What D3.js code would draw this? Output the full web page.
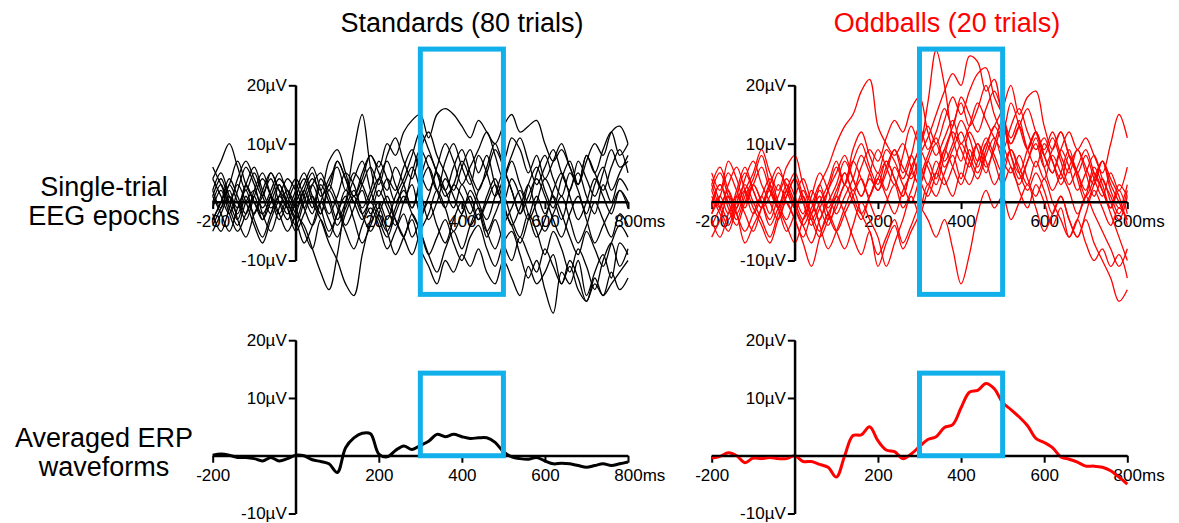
<!DOCTYPE html>
<html><head><meta charset="utf-8">
<script src="https://cdn.jsdelivr.net/npm/d3@7"></script>
<style>
body{margin:0;background:#fff}
svg{display:block}
text{font-family:"Liberation Sans",Arial,Helvetica,sans-serif}
</style>
</head><body>
<svg id="chart" width="1179" height="523"></svg>
<script>
// ---------- data ----------
const times = [-200,-180,-160,-140,-120,-100,-80,-60,-40,-20,0,20,40,60,80,100,120,140,160,180,200,220,240,260,280,300,320,340,360,380,400,420,440,460,480,500,520,540,560,580,600,620,640,660,680,700,720,740,760,780,800];

const standardTrials = [
 [2,5,1,-2,3,6,2,-1,1,4, 2,-1,3,5,2,7,4,1,5,8, 6,10,8,12,14,15,11,15,16,15, 13,11,14,12,10,13,15,12,13,14, 10,7,9,6,3,7,10,8,12,13, 10],
 [-3,0,4,1,-2,2,5,1,-3,0, 3,-1,-4,0,4,6,2,9,15,6, 1,4,2,6,9,5,2,6,10,7, 3,6,9,12,8,4,7,3,0,5, 8,4,1,5,2,-2,3,6,2,5, 8],
 [1,-2,-5,-1,2,-3,-6,-2,1,-1, -4,0,3,-1,-5,-2,2,0,-3,1, 4,0,-3,-6,-2,-5,-9,-6,-3,-7, -10,-6,-4,-8,-11,-7,-5,-9,-13,-10, -15,-19,-12,-14,-10,-16,-12,-9,-13,-7, -9],
 [0,3,-1,-4,0,2,-2,-5,-1,2, -1,-5,-8,-3,-6,-2,1,-3,-7,-4, -1,-5,-9,-6,-3,-8,-11,-14,-10,-12, -9,-11,-8,-12,-14,-10,-13,-16,-11,-14, -12,-9,-14,-11,-15,-17,-13,-16,-14,-12, -10],
 [4,1,-2,2,6,3,-1,2,5,1, -2,-4,-8,-12,-15,-9,0,5,3,0, 4,7,3,0,5,9,6,2,7,10, 6,3,8,5,1,4,8,11,7,3, 6,9,5,2,7,4,1,5,9,6, 7],
 [-2,-5,-1,3,0,-4,-7,-3,0,-2, 1,4,0,-3,-7,-10,-14,-16,-9,-3, 2,-1,-4,0,3,-2,1,5,2,-1, 3,0,-3,1,4,0,-4,-1,3,-2, -5,-2,1,-3,-7,-4,0,-3,-6,-2, -4],
 [4,7,10,6,2,5,1,-2,3,0, -3,1,4,2,7,9,5,1,4,8, 5,2,6,3,-1,4,8,5,1,3, 7,4,0,-3,1,5,2,-2,3,6, 2,-1,4,7,3,8,5,2,6,9, 5],
 [-4,-1,2,-3,-6,-2,1,4,0,-3, 0,3,6,2,-2,1,5,3,-1,2, 7,4,0,3,6,2,-3,0,4,1, -2,2,-1,-5,-2,1,-3,-6,-2,-5, -9,-5,-8,-12,-8,-11,-15,-10,-7,-11, -8],
 [6,3,0,4,7,4,1,5,2,-1, 2,5,1,-2,3,0,-4,-1,3,6, 3,8,11,7,4,9,12,8,5,2, 6,9,5,8,3,0,4,1,-3,0, 4,1,-3,2,5,1,-2,3,0,4, 2],
 [-1,2,-2,-5,-2,1,-3,0,3,-1, -5,-2,1,-2,2,-1,-5,-8,-4,-1, -4,-8,-5,-2,-6,-3,0,-4,-7,-3, 0,-4,-2,-6,-3,-7,-10,-6,-9,-12, -8,-11,-14,-10,-13,-17,-14,-16,-12,-15, -13],
 [2,-1,3,0,-3,1,4,1,-2,1, 4,1,-2,3,0,-4,-1,2,-2,-5, -2,1,-3,-6,-9,-5,-2,2,-1,-5, -2,1,-3,0,3,-1,-4,-7,-3,1, -2,2,5,1,-3,0,4,1,-2,2, -1],
 [-3,0,3,7,3,0,-3,1,-2,-5, -2,2,5,1,3,7,4,0,2,-2, 0,-3,1,4,8,12,9,5,2,6, 9,5,2,6,10,7,11,9,5,8, 4,7,10,6,3,8,5,9,12,8, 10],
 [1,4,0,-3,1,-2,2,5,2,0, -3,-7,-4,0,-3,-6,-2,1,-2,0, -3,-6,-2,1,-2,-5,-9,-12,-8,-5, -8,-4,-1,-5,-8,-4,-1,2,-2,-6, -3,1,-2,-6,-9,-5,-8,-11,-7,-4, -6],
 [-5,-2,1,-1,3,0,-2,1,4,2, -1,2,-1,4,1,-3,0,4,7,2, -2,-5,-1,2,-1,3,6,2,-1,3, 1,-2,2,5,9,6,2,-2,1,4, 1,-3,-6,-2,1,-3,-7,-4,-1,2, 0]
];

const oddballTrials = [
 [2,-1,3,6,2,-2,1,4,0,-3, 1,4,0,-3,2,5,8,4,1,5, 9,6,3,8,13,10,17,26,20,11, 7,12,9,5,10,14,8,4,7,11, 6,2,5,9,4,0,3,7,2,-1, 3],
 [-2,1,5,2,-1,3,0,-4,-1,2, -1,-4,-7,-3,0,3,7,4,1,4, 2,5,9,6,4,8,11,15,19,22, 20,25,24,19,21,14,10,13,9,6, 10,7,3,6,9,5,1,4,0,-3, 1],
 [3,6,2,-1,4,7,3,0,-3,1, 4,0,-4,-1,2,6,3,7,10,6, 3,7,4,1,6,9,13,10,14,18, 15,19,22,23,18,15,11,14,9,12, 8,5,9,6,2,5,8,4,1,-2, 2],
 [-1,3,0,-3,1,4,8,3,-1,2, 5,1,-2,3,6,10,13,15,19,21, 13,10,8,10,6,3,7,10,6,9, 12,8,5,9,13,10,6,3,7,10, 6,9,12,8,5,2,6,3,-1,2, -2],
 [4,0,-3,1,5,2,-1,3,6,2, -1,2,-2,-5,-2,1,5,2,6,9, 7,11,14,12,16,18,12,8,11,14, 10,13,17,14,11,9,13,16,12,9, 11,7,4,8,5,1,4,7,3,0, -3],
 [-3,-6,-2,1,-2,-5,-1,2,-1,-4, -7,-3,0,-4,-8,-5,-1,2,-2,-5, -9,-6,-3,-7,-4,-1,-3,-6,-3,-8, -14,-9,-2,2,-1,1,-3,0,3,-1, -5,-2,1,-3,-6,-2,2,-1,-4,-1, -3],
 [1,-2,-5,-1,2,-1,-4,-7,-3,0, -3,-6,-2,1,-3,-1,3,0,-3,1, 4,1,-2,2,5,9,6,3,8,12, 9,6,10,7,3,6,9,5,2,5, 2,-2,1,-3,-6,-3,-7,-10,-13,-17, -15],
 [-4,-1,2,-2,-5,-2,1,-2,3,0, -3,-7,-11,-6,-2,-5,-8,-4,0,-3, -6,-11,-7,-3,1,-2,2,5,3,6, 10,7,4,8,11,7,5,8,4,1, 4,0,-3,-6,-3,-7,-10,-8,-11,-9, -13],
 [2,5,1,-2,2,5,9,5,2,6, 8,3,0,3,-1,2,5,1,-2,1, 4,7,4,1,5,3,7,4,9,6, 3,7,10,6,9,13,8,5,9,12, 8,5,9,12,9,11,8,5,10,15, 11],
 [0,3,-1,-4,0,3,0,-3,1,4, 1,-2,2,-1,-4,0,3,7,4,1, 5,2,6,3,0,4,8,11,7,10, 14,11,7,10,13,16,20,15,18,19, 13,9,12,8,5,8,4,1,5,2, 6],
 [-6,-3,1,-2,-7,-4,-1,3,-1,-5, -2,1,-3,-6,-3,1,-2,-6,-9,-5, -11,-7,-4,-8,-5,-2,3,1,5,8, 4,9,6,10,7,3,6,2,-1,3, 0,-4,-1,-6,-3,1,-2,-5,-8,-11, -8],
 [5,2,7,4,0,3,6,2,-1,3, 0,-3,1,5,2,-2,1,4,8,5, 2,6,9,5,8,4,1,5,9,13, 17,13,16,20,15,12,17,13,9,12, 8,11,7,3,6,9,5,2,-1,3, 1],
 [-2,1,-2,2,6,2,-1,1,5,3, -1,-4,-1,2,-2,-5,-2,1,4,0, -3,0,3,-1,2,6,3,7,4,1, 5,3,7,11,8,5,9,6,3,7, 4,8,5,2,-2,1,5,2,-2,-6, -10],
 [3,-1,-4,0,3,0,-3,-6,-2,1, 4,0,-3,0,3,7,3,9,12,8, 5,9,7,4,8,13,9,12,16,13, 18,15,12,16,19,15,10,13,16,12, 9,12,8,5,9,6,3,7,4,1, -4]
];

const standardAverage = [0.1,0.3,0.1,-0.3,-0.3,-0.5,-0.9,-0.3,-0.9,-0.5, 0.1,0.0,-0.7,-1.0,-1.4,-2.9,1.4,3.1,3.9,3.8, 0.3,-0.2,0.9,1.7,1.1,1.8,2.5,3.7,3.3,3.7, 3.3,3.0,3.1,3.1,2.3,0.7,-0.2,-0.5,-0.6,-0.3, -0.9,-1.4,-1.3,-1.4,-1.7,-2.0,-1.7,-1.4,-1.7,-1.4, -1.1];
const oddballAverage = [-0.4,-0.1,0.5,0.0,-1.2,-0.4,-0.5,-0.3,-0.5,-0.5, 0.0,-1.0,-1.0,-1.5,-2.0,-3.7,0.0,3.5,3.6,5.0, 2.6,1.0,0.7,-0.5,0.3,1.6,2.8,3.3,4.9,5.4, 8.3,11.0,11.3,12.5,11.6,9.2,8.0,6.7,5.2,3.0, 2.3,1.4,-0.2,-0.6,-1.1,-1.8,-1.8,-2.0,-2.6,-3.7, -4.9];

const xTicks = [-200,200,400,600,800];
const yTicks = [-10,10,20];
const xDomain = [-200,800];
const yDomain = [-10,20];
const windowMs = [300,500];
const windowTrialUV = [-15.8,26.2];
const windowAvgUV = [0,14.3];
const titles = ["Standards (80 trials)","Oddballs (20 trials)"];
const rowLabels = [["Single-trial","EEG epochs"],["Averaged ERP","waveforms"]];

// ---------- layout ----------
const W = 1179, H = 523;
const colX = [[212.7,628],[711.7,1127.3]];
const rowY = [[260.5,85.3],[513.5,340.2]];
const colors = ["#000000","#ff0000"];
const boxColor = "#12b0ea";
const font = '"Liberation Sans",Arial,Helvetica,sans-serif';

const svg = d3.select("#chart");

// titles
svg.selectAll("text.title").data(titles).join("text")
  .attr("class","title")
  .attr("x",(d,i)=>[462,947][i]).attr("y",32)
  .attr("text-anchor","middle").attr("font-size",27)
  .attr("fill",(d,i)=>colors[i]).text(d=>d);

// row labels
rowLabels.forEach((lines,r)=>{
  const t = svg.append("text").attr("text-anchor","middle").attr("font-size",27).attr("fill","#000");
  const base = [196,447][r];
  lines.forEach((ln,k)=>{
    t.append("tspan").attr("x",104).attr("y",base + k*28.5).text(ln);
  });
});

function drawPanel(col,row){
  const x = d3.scaleLinear().domain(xDomain).range(colX[col]);
  const y = d3.scaleLinear().domain(yDomain).range(rowY[row]);
  const g = svg.append("g");
  const line = d3.line().x((d,i)=>x(times[i])).y(d=>y(d)).curve(d3.curveCatmullRom.alpha(0.5));

  // axes labels first (lines drawn over them)
  const xa = d3.axisBottom(x).tickValues(xTicks).tickSize(7).tickSizeOuter(0).tickPadding(6)
     .tickFormat(d=> d===800 ? "800ms" : String(d));
  const ya = d3.axisLeft(y).tickValues(yTicks).tickSize(7).tickSizeOuter(0).tickPadding(2)
     .tickFormat(d=> d + "µV");

  const gx = g.append("g").attr("transform",`translate(0,${y(0)})`).call(xa);
  const gy = g.append("g").attr("transform",`translate(${x(0)},0)`).call(ya);
  [gx,gy].forEach(a=>{
    a.attr("font-family",font).attr("font-size",17);
    a.selectAll("text").attr("fill","#000");
    a.selectAll("line").attr("stroke","#000").attr("stroke-width",2);
    a.select(".domain").attr("stroke","#000").attr("stroke-width",2);
  });
  // center "800" of "800ms" on its tick
  gx.selectAll(".tick text").filter(d=>d===800).each(function(){
    const tmp = gx.append("text").attr("font-size",17).attr("font-family",font).text("800");
    const w = tmp.node().getComputedTextLength(); tmp.remove();
    d3.select(this).attr("text-anchor","start").attr("x",-w/2);
  });

  // traces
  const traceG = g.append("g");
  if(row===0){
    const data = col===0 ? standardTrials : oddballTrials;
    traceG.selectAll("path").data(data).join("path")
      .attr("d",line).attr("fill","none").attr("stroke",colors[col])
      .attr("stroke-width",1.3).attr("stroke-linejoin","round");
  } else {
    const data = col===0 ? standardAverage : oddballAverage;
    traceG.append("path").datum(data)
      .attr("d",line).attr("fill","none").attr("stroke",colors[col])
      .attr("stroke-width",3).attr("stroke-linejoin","round");
  }

  // re-draw axis lines on top of traces
  const top = g.append("g");
  top.append("line").attr("x1",x(xDomain[0])).attr("x2",x(xDomain[1])).attr("y1",y(0)).attr("y2",y(0))
     .attr("stroke","#000").attr("stroke-width",2);
  top.append("line").attr("x1",x(0)).attr("x2",x(0)).attr("y1",y(yDomain[0])).attr("y2",y(yDomain[1]))
     .attr("stroke","#000").attr("stroke-width",2);

  // analysis window box
  const b = row===0 ? windowTrialUV : windowAvgUV;
  g.append("rect")
    .attr("x",x(windowMs[0])).attr("y",y(b[1]))
    .attr("width",x(windowMs[1])-x(windowMs[0])).attr("height",y(b[0])-y(b[1]))
    .attr("fill","none").attr("stroke",boxColor).attr("stroke-width",5);
}

for(let r=0;r<2;r++) for(let c=0;c<2;c++) drawPanel(c,r);
</script>
</body></html>
